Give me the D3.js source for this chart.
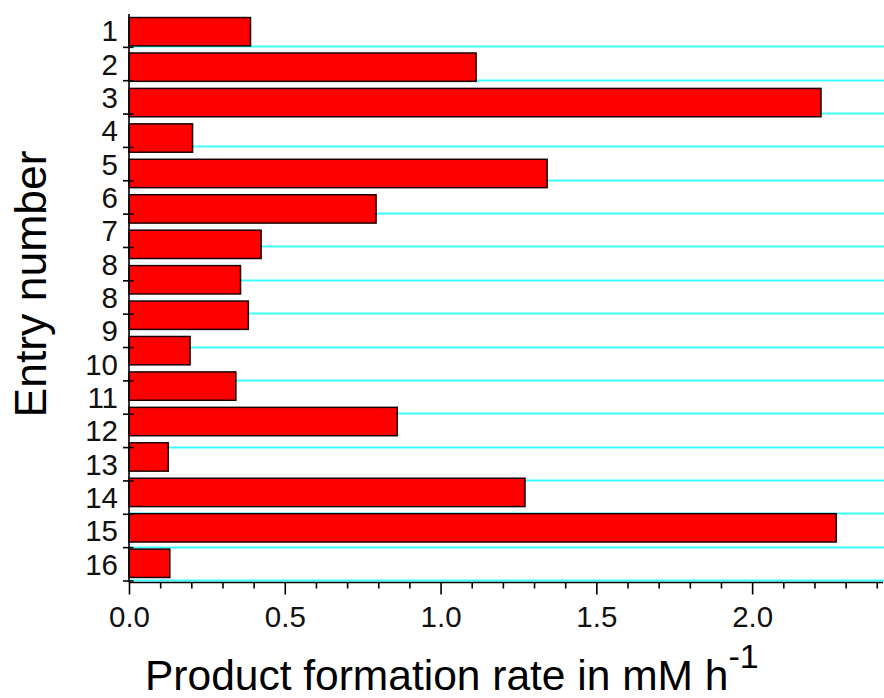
<!DOCTYPE html>
<html><head><meta charset="utf-8">
<script src="https://cdn.jsdelivr.net/npm/d3@7"></script>
<style>
body{margin:0;background:#fff;}
svg{display:block;font-family:"Liberation Sans",Arial,sans-serif;}
</style></head>
<body><svg id="c" width="884" height="698"></svg>
<script>
// Bars (one per drawn bar, top to bottom)
const barIds = ["b1","b2","b3","b4","b5","b6","b7","b8","b9","b10","b11","b12","b13","b14","b15","b16"];
const rates = [0.39, 1.114, 2.221, 0.204, 1.342, 0.793, 0.424, 0.358, 0.383, 0.196, 0.343, 0.861, 0.126, 1.271, 2.27, 0.131];
// Y-axis tick labels as printed (note duplicated "8")
const entryLabels = ["1","2","3","4","5","6","7","8","8","9","10","11","12","13","14","15","16"];
const xMajorTicks = [0.0, 0.5, 1.0, 1.5, 2.0];
const xMinorTicks = [0.1,0.2,0.3,0.4,0.6,0.7,0.8,0.9,1.1,1.2,1.3,1.4,1.6,1.7,1.8,1.9,2.1,2.2,2.3,2.4];
const xMax = 2.42;

const svg = d3.select("#c");
const L = 129, R = 883, T = 14, B = 581;

const x = d3.scaleLinear().domain([0, xMax]).range([L, R]);
const yBar = d3.scaleBand().domain(barIds).range([T, B]).paddingInner(0.2).paddingOuter(0.1);
const yLab = d3.scaleBand().domain(d3.range(entryLabels.length)).range([T, B]);

// gridlines at label-band boundaries
const bounds = d3.range(1, entryLabels.length + 1).map(k => yLab.step() * k + T);
svg.append("g").selectAll("line").data(bounds).join("line")
  .attr("x1", L).attr("x2", 884)
  .attr("y1", d => Math.round(d) - 0.5).attr("y2", d => Math.round(d) - 0.5)
  .attr("stroke", "#3cffff").attr("stroke-width", 1.8);

// bars
svg.append("g").selectAll("rect").data(rates).join("rect")
  .attr("x", x(0))
  .attr("y", (d, i) => yBar(barIds[i]))
  .attr("width", d => x(d) - x(0))
  .attr("height", yBar.bandwidth())
  .attr("fill", "#ff0000")
  .attr("stroke", "#1a0000")
  .attr("stroke-width", 1.5);

// y axis line
svg.append("line").attr("x1", L).attr("x2", L).attr("y1", T).attr("y2", B + 1.5)
  .attr("stroke", "#000").attr("stroke-width", 1.6);
// y ticks crossing axis
svg.append("g").selectAll("line").data(bounds).join("line")
  .attr("x1", L - 6).attr("x2", L + 4.5)
  .attr("y1", d => d).attr("y2", d => d)
  .attr("stroke", "#000").attr("stroke-width", 1.6);
// y labels
svg.append("g").selectAll("text").data(entryLabels).join("text")
  .attr("x", 118)
  .attr("y", (d, i) => yLab(i) + yLab.bandwidth() / 2 + 10.5)
  .attr("text-anchor", "end")
  .attr("font-size", 29.5)
  .attr("fill", "#111")
  .text(d => d);

// x axis
const xAxisY = B + 1.5;
const gx = svg.append("g").attr("transform", `translate(0,${xAxisY})`)
  .call(d3.axisBottom(x).tickValues(xMajorTicks).tickFormat(d3.format(".1f")).tickSize(12).tickSizeOuter(0).tickPadding(12));
gx.select(".domain").attr("stroke-width", 1.6).attr("d", `M${L},0H${R}`);
gx.selectAll(".tick line").attr("stroke-width", 1.6);
gx.selectAll(".tick text").attr("font-size", 29.5).attr("fill", "#111")
  .attr("font-family", "Liberation Sans, Arial, sans-serif");
const gm = svg.append("g").attr("transform", `translate(0,${xAxisY})`)
  .call(d3.axisBottom(x).tickValues(xMinorTicks).tickFormat("").tickSize(6).tickSizeOuter(0));
gm.select(".domain").remove();
gm.selectAll(".tick line").attr("stroke-width", 1.6);

// axis titles
const xt = svg.append("text").attr("x", 145).attr("y", 690)
  .attr("font-size", 42.5).attr("fill", "#000");
xt.append("tspan").text("Product formation rate in mM h");
xt.append("tspan").attr("dy", -22).attr("font-size", 34).text("-1");

svg.append("text")
  .attr("transform", "translate(46,284) rotate(-90)")
  .attr("text-anchor", "middle")
  .attr("font-size", 44.5).attr("fill", "#000")
  .text("Entry number");
</script></body></html>
